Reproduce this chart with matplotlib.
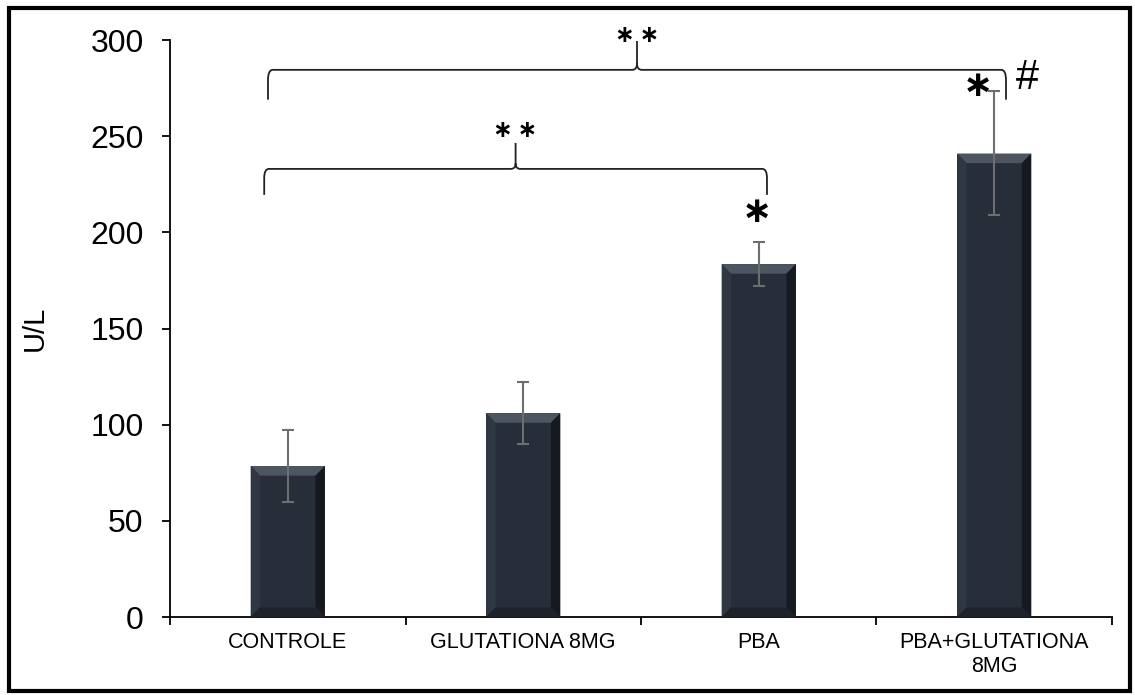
import matplotlib
matplotlib.use("Agg")
import matplotlib.pyplot as plt
from matplotlib.patches import Polygon, Rectangle, PathPatch
from matplotlib.path import Path

categories = ["CONTROLE", "GLUTATIONA 8MG", "PBA", "PBA+GLUTATIONA\n8MG"]
values = [78.5, 106, 183.5, 241]
err_low = [60, 90, 172, 209]
err_high = [97, 122, 195, 273.5]
yticks = [0, 50, 100, 150, 200, 250, 300]

# brackets: (left x, right x, end y, line y, tip y, label y, label)
brackets = [(-0.10, 2.035, 219.5, 233, 246.5, 253, "∗\u2009∗"),
            (-0.084, 3.05, 269, 284.5, 299.5, 302.5, "∗\u2009∗")]

BAR = "#272e39"


def brace(ax, x0, x1, y_end, y_line, y_tip):
    xm = (x0 + x1) / 2
    r = 0.02
    dy = (y_line - y_end) * 0.35
    verts = [(x0, y_end), (x0, y_line - dy), (x0, y_line), (x0 + r, y_line),
             (xm - r, y_line), (xm, y_line), (xm, y_line + dy * 0.6), (xm, y_tip),
             (xm, y_line + dy * 0.6), (xm, y_line), (xm + r, y_line),
             (x1 - r, y_line), (x1, y_line), (x1, y_line - dy), (x1, y_end)]
    codes = [Path.MOVETO, Path.LINETO, Path.CURVE3, Path.CURVE3,
             Path.LINETO, Path.CURVE3, Path.CURVE3, Path.LINETO,
             Path.MOVETO, Path.CURVE3, Path.CURVE3,
             Path.LINETO, Path.CURVE3, Path.CURVE3, Path.LINETO]
    ax.add_patch(PathPatch(Path(verts, codes), fill=False, edgecolor="#222222",
                           linewidth=1.3, clip_on=False))


def main():
    plt.rcParams["font.family"] = ["Liberation Sans", "DejaVu Sans"]
    fig = plt.figure(figsize=(11.35, 6.95), dpi=100)
    ax = fig.add_axes([0.1498, 0.1122, 0.8299, 0.8302])

    x = list(range(len(categories)))
    w = 0.315
    ax.bar(x, values, width=w, color=BAR, zorder=2)

    # bevel effect on each bar
    bx = 0.04
    by = 5
    for xi, v in zip(x, values):
        l, r = xi - w / 2, xi + w / 2
        ax.add_patch(Polygon([(l, v), (r, v), (r - bx, v - by), (l + bx, v - by)],
                             closed=True, color="#4d5560", lw=0, zorder=3))
        ax.add_patch(Polygon([(l, v), (l + bx, v - by), (l + bx, by), (l, 0)],
                             closed=True, color="#2f3742", lw=0, zorder=3))
        ax.add_patch(Polygon([(r, v), (r - bx, v - by), (r - bx, by), (r, 0)],
                             closed=True, color="#161a20", lw=0, zorder=3))
        ax.add_patch(Polygon([(l, 0), (r, 0), (r - bx, by), (l + bx, by)],
                             closed=True, color="#1d232b", lw=0, zorder=3))

    lo = [v - a for v, a in zip(values, err_low)]
    hi = [b - v for v, b in zip(values, err_high)]
    ax.errorbar(x, values, yerr=[lo, hi], fmt="none", ecolor="#6e6e6e",
                elinewidth=1.5, capsize=4.5, capthick=1.5, zorder=4)

    for x0, x1, ye, yl, yt, ty, lab in brackets:
        brace(ax, x0, x1, ye, yl, yt)
        ax.text((x0 + x1) / 2, ty, lab, ha="center", va="center",
                fontsize=17, fontweight="bold", family="DejaVu Sans", clip_on=False)

    ax.text(1.99, 210.5, "∗", ha="center", va="center", fontsize=26,
            fontweight="bold", family="DejaVu Sans")
    ax.text(2.93, 276, "∗", ha="center", va="center", fontsize=26,
            fontweight="bold", family="DejaVu Sans")
    ax.text(3.14, 280, "#", ha="center", va="center", fontsize=30)

    ax.set_xlim(-0.5, 3.5)
    ax.set_ylim(0, 300)
    ax.set_yticks(yticks)
    ax.set_ylabel("U/L", fontsize=21)
    ax.yaxis.set_label_coords(-0.129, 0.5)
    ax.set_xticks([-0.5, 0.5, 1.5, 2.5, 3.5])
    ax.set_xticklabels([])
    ax.set_xticks(x, minor=True)
    ax.set_xticklabels(categories, minor=True, fontsize=15.5)
    ax.tick_params(axis="x", which="minor", length=0, pad=11)
    ax.tick_params(axis="x", which="major", length=6, width=1.3, direction="out")
    ax.tick_params(axis="y", length=6, width=1.3, labelsize=23, pad=13)
    for s in ["top", "right"]:
        ax.spines[s].set_visible(False)
    for s in ["left", "bottom"]:
        ax.spines[s].set_linewidth(1.3)

    fig.patches.append(Rectangle((0.008, 0.006), 0.988, 0.983, transform=fig.transFigure,
                                 fill=False, edgecolor="black", linewidth=3))

    fig.savefig("out.png", dpi=100)


if __name__ == "__main__":
    main()
